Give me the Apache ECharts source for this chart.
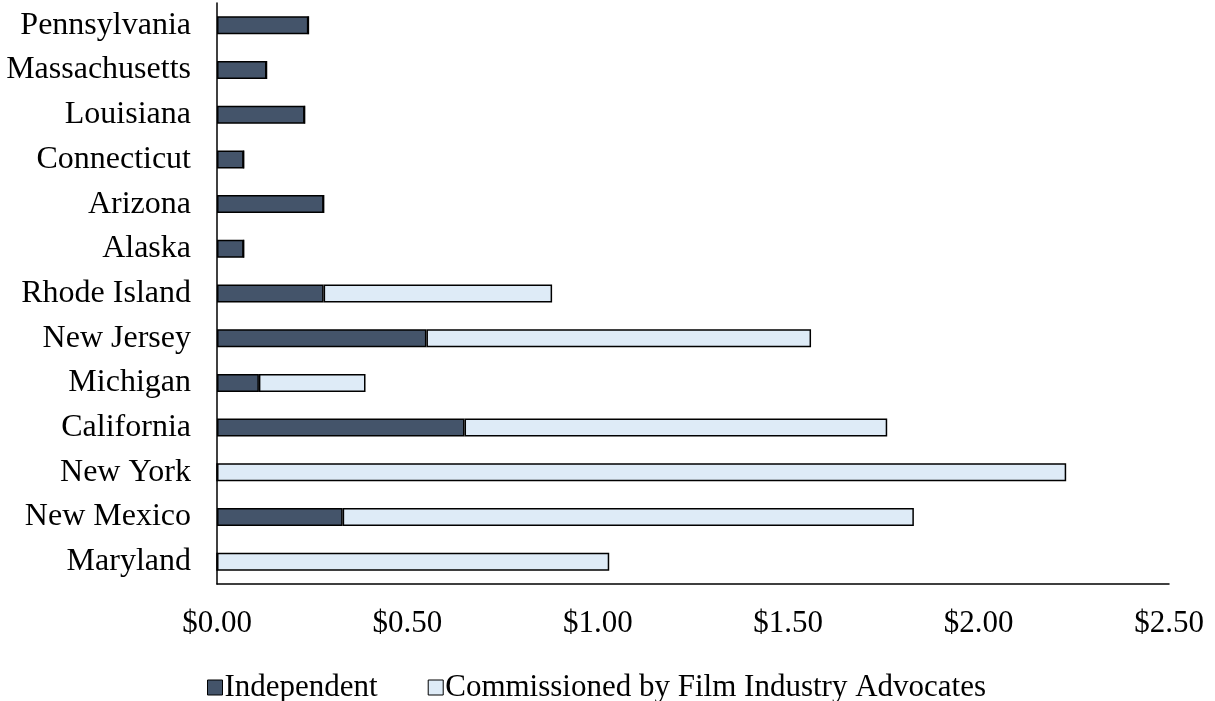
<!DOCTYPE html>
<html>
<head>
<meta charset="utf-8">
<script src="https://cdn.jsdelivr.net/npm/echarts@6/dist/echarts.min.js"></script>
<style>html,body{margin:0;padding:0;background:#fff;}#c{width:1215px;height:701px;}</style>
</head>
<body>
<div id="c"></div>
<script>
const categories = ['Pennsylvania','Massachusetts','Louisiana','Connecticut','Arizona','Alaska','Rhode Island','New Jersey','Michigan','California','New York','New Mexico','Maryland'];
const independent = [0.24,0.13,0.23,0.07,0.28,0.07,0.28,0.55,0.11,0.65,0,0.33,0];
const commissioned = [0,0,0,0,0,0,0.60,1.01,0.28,1.11,2.23,1.50,1.03];
const xTicks = [0,0.5,1,1.5,2,2.5];

const chart = echarts.init(document.getElementById('c'));
const font = 'Liberation Serif, Times New Roman, serif';
chart.setOption({
  animation: false,
  textStyle: {fontFamily: font},
  grid: {left: 217, right: 46, top: 3, bottom: 117, containLabel: false},
  legend: {
    left: 202, top: 667,
    icon: 'rect', itemWidth: 15, itemHeight: 15, itemGap: 50,
    textStyle: {fontFamily: font, fontSize: 31, color: '#000', padding: [0,0,0,-3]},
    data: [
      {name: 'Independent', itemStyle: {color: '#44546A', borderColor: '#000', borderWidth: 1}},
      {name: 'Commissioned by Film Industry Advocates', itemStyle: {color: '#DEEBF7', borderColor: '#000', borderWidth: 1}}
    ]
  },
  xAxis: {
    type: 'value', min: xTicks[0], max: xTicks[xTicks.length-1], interval: 0.5,
    axisLine: {show: true, lineStyle: {color: '#000', width: 1.5}},
    axisTick: {show: false},
    splitLine: {show: false},
    axisLabel: {fontFamily: font, fontSize: 31, color: '#000', margin: 24,
      formatter: v => '$' + v.toFixed(2)}
  },
  yAxis: {
    type: 'category', data: categories, inverse: true,
    axisLine: {show: true, lineStyle: {color: '#000', width: 1.5}},
    axisTick: {show: false},
    axisLabel: {fontFamily: font, fontSize: 32, color: '#000', margin: 26}
  },
  series: [
    {name: 'Independent', type: 'bar', stack: 't', data: independent, barWidth: 18,
     itemStyle: {color: '#44546A', borderColor: '#000', borderWidth: 1.5}},
    {name: 'Commissioned by Film Industry Advocates', type: 'bar', stack: 't', data: commissioned, barWidth: 18,
     itemStyle: {color: '#DEEBF7', borderColor: '#000', borderWidth: 1.5}}
  ]
});
</script>
</body>
</html>
